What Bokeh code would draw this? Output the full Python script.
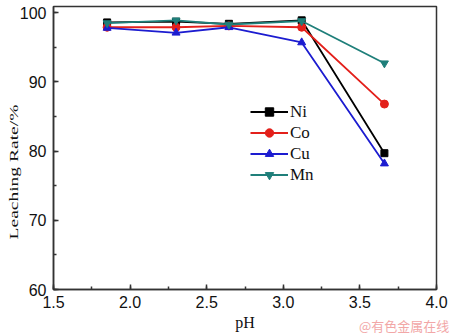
from bokeh.plotting import figure
from bokeh.models import Range1d, Legend, LegendItem, Div, SingleIntervalTicker, NumeralTickFormatter
from bokeh.layouts import column
from bokeh.embed import file_html
from bokeh.resources import INLINE

ph = [1.85, 2.30, 2.645, 3.12, 3.66]
ni = [98.6, 98.7, 98.4, 98.9, 79.7]
co = [97.9, 97.9, 98.1, 97.9, 86.8]
cu = [97.8, 97.1, 97.9, 95.7, 78.2]
mn = [98.5, 98.9, 98.3, 98.8, 92.7]
y_title = "Leaching Rate/%"
x_title = "pH"
watermark = "@有色金属在线"

series = [
    ("Ni", ni, "#000000", "square", 7),
    ("Co", co, "#e3201b", "circle", 8),
    ("Cu", cu, "#1c1cd0", "triangle", 8),
    ("Mn", mn, "#1f7f7a", "inverted_triangle", 8),
]

p = figure(width=450, height=333, output_backend="svg", toolbar_location=None,
           x_range=Range1d(1.5, 4.0), y_range=Range1d(60, 100.9),
           min_border_left=53, min_border_right=14, min_border_top=6, min_border_bottom=42)
p.background_fill_color = "white"
p.border_fill_color = "white"
p.outline_line_color = "#333333"
p.outline_line_width = 1.5
p.xgrid.visible = False
p.ygrid.visible = False

items = []
for name, vals, col, mk, sz in series:
    r1 = p.line(ph, vals, line_color=col, line_width=1.8)
    r2 = p.scatter(ph, vals, marker=mk, size=sz, fill_color=col, line_color=col)
    items.append(LegendItem(label=name, renderers=[r1, r2]))

leg = Legend(items=items, location=(197, 104), border_line_color=None,
             background_fill_alpha=0, glyph_width=38, glyph_height=21,
             label_height=21, spacing=0, padding=2, margin=0, label_standoff=2,
             label_text_font="Liberation Serif", label_text_font_size="17px",
             label_text_color="#111111")
p.add_layout(leg)

p.xaxis.ticker = SingleIntervalTicker(interval=0.5, num_minor_ticks=2)
p.xaxis.formatter = NumeralTickFormatter(format="0.0")
p.yaxis.ticker = SingleIntervalTicker(interval=10, num_minor_ticks=2)
for ax in (p.xaxis[0], p.yaxis[0]):
    ax.axis_line_color = "#333333"
    ax.axis_line_width = 1.5
    ax.major_tick_in = 5
    ax.major_tick_out = 0
    ax.minor_tick_in = 3
    ax.minor_tick_out = 0
    ax.major_tick_line_color = "#333333"
    ax.minor_tick_line_color = "#333333"
    ax.major_tick_line_width = 1.5
    ax.minor_tick_line_width = 1.5
    ax.major_label_text_font = "Liberation Sans"
    ax.major_label_text_font_size = "16px"
    ax.major_label_text_color = "#111111"
    ax.axis_label_text_font = "Liberation Serif"
    ax.axis_label_text_font_style = "normal"
    ax.axis_label_text_color = "#111111"

p.xaxis.major_label_standoff = 6
p.yaxis.major_label_standoff = 7
p.xaxis.axis_label = x_title
p.xaxis.axis_label_text_font_size = "16px"
p.xaxis.axis_label_standoff = 3

ylab = Div(text=y_title, width=100, height=16,
           styles={"position": "absolute", "left": "-41px", "top": "159px",
                   "color": "#111111", "font-family": "Liberation Serif",
                   "font-size": "13px", "white-space": "nowrap", "line-height": "16px",
                   "text-align": "center", "transform": "rotate(-90deg) scaleX(1.5)"})

wm = Div(text=watermark, width=96, height=20,
         styles={"position": "absolute", "left": "354px", "top": "312px",
                 "color": "#f2a7a7", "font-family": "Noto Sans CJK SC",
                 "font-size": "13px", "white-space": "nowrap", "line-height": "18px"})

layout = column(p, ylab, wm)
open("out.html", "w").write(file_html(layout, INLINE))
